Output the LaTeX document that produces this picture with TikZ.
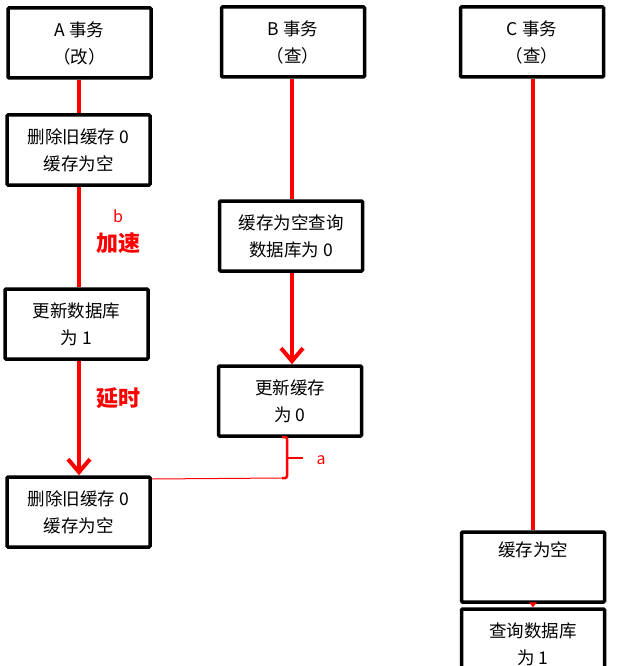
\documentclass[tikz,border=0pt]{standalone}
\usepackage{fontspec}
\setmainfont{Noto Sans CJK SC}
\usetikzlibrary{arrows.meta}
\begin{document}
\begin{tikzpicture}[x=1pt,y=-1pt,
  box/.style={draw=black,line width=3.5pt,fill=white,minimum width=143pt,minimum height=70pt,inner sep=0pt,align=center,font=\fontsize{17.5}{27}\selectfont,rounded corners=1pt},
  life/.style={draw=red,line width=4pt},
  barb/.style={-{Straight Barb[length=13pt,width=22pt,line width=4pt]}},
  lbl/.style={text=red,font=\fontsize{22}{24}\selectfont\bfseries}]
\useasboundingbox (0,0) rectangle (626,666);
\begin{scope}
\clip (0,0) rectangle (626,666);
\node[box] (A) at (79.5,43) {A 事务\\（改）};
\node[box] (A2) at (78.5,150) {删除旧缓存 0\\缓存为空};
\node[box] (A3) at (76.5,324) {更新数据库\\为 1};
\node[box] (A4) at (78.5,512) {删除旧缓存 0\\缓存为空};
\node[box] (B) at (293,42) {B 事务\\（查）};
\node[box] (B2) at (291,236) {缓存为空查询\\数据库为 0};
\node[box] (B3) at (290,401) {更新缓存\\为 0};
\node[box] (C) at (532,42) {C 事务\\（查）};
\node[box] (C2) at (533,567) {缓存为空\\\strut};
\node[box] (C3) at (533,644) {查询数据库\\为 1};
\coordinate (xa) at (79,0);
\coordinate (xb) at (292,0);
\coordinate (xc) at (533,0);
\draw[life] (A.south -| xa) -- (A2.north -| xa);
\draw[life] (A2.south -| xa) -- (A3.north -| xa);
\draw[life,barb] (A3.south -| xa) -- (A4.north -| xa);
\draw[life] (B.south -| xb) -- (B2.north -| xb);
\draw[life,barb] (B2.south -| xb) -- (B3.north -| xb);
\draw[life] (C.south -| xc) -- (C2.north -| xc);
\draw[red,line width=2pt,-{Triangle[length=5pt,width=8pt]}] (C2.south -| xc) -- (C3.north -| xc);
\coordinate (br1) at (282,437);
\coordinate (br2) at (282,478);
\coordinate (brt) at (303,458);
\draw[red,line width=2.5pt,rounded corners=2pt] (br1) -- (287,437) -- (287,478) -- (br2);
\draw[red,line width=2.5pt] (287,458) -- (brt);
\draw[red,line width=1pt] (A4.north east |- 0,479) -- (br2);
\node[text=red,font=\fontsize{16}{18}\selectfont,anchor=west] (a) at (313,460) {a};
\node[text=red,font=\fontsize{16}{18}\selectfont] (b) at (118,216) {b};
\node[lbl] (jiasu) at (118,243) {加速};
\node[lbl] (yanshi) at (118,398) {延时};
\end{scope}
\end{tikzpicture}
\end{document}
